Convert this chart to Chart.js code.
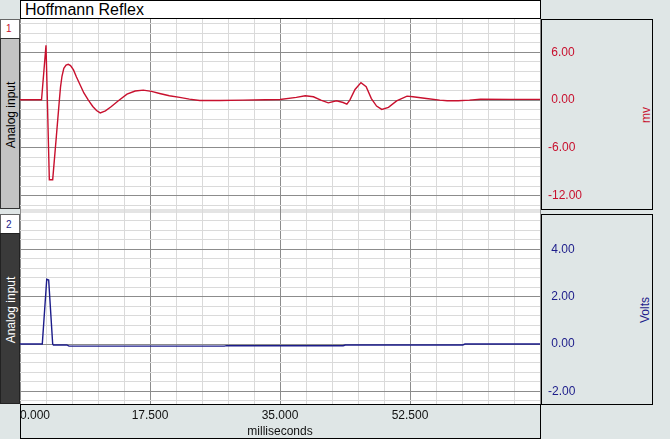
<!DOCTYPE html>
<html>
<head>
<meta charset="utf-8">
<title>Hoffmann Reflex</title>
<script src="https://cdn.jsdelivr.net/npm/chart.js@4.4.1/dist/chart.umd.min.js"></script>
<style>
    body { margin: 0; background: #dfe6e6; font-family: 'Liberation Sans', Arial, sans-serif; }
    #wrap { position: relative; width: 670px; height: 439px; overflow: hidden; }
    #wrap div { position: absolute; box-sizing: border-box; }
    canvas { position: absolute; left: 0; top: 0; }
    .box { border: 1px solid #000; }
    .vtext { white-space: nowrap; font-size: 12px; line-height: 14px; transform: translate(-50%, -50%) rotate(-90deg); }
    .num { font-size: 10px; line-height: 12px; }
</style>
</head>
<body>
<div id="wrap">
    <!-- plot background + splitter between the two panels -->
    <div style="left:20px;top:19px;width:521px;height:386px;background:#fff"></div>
    <div style="left:20px;top:209px;width:521px;height:4px;background:#e4e4e4"></div>

    <!-- title -->
    <div class="box" style="left:20px;top:0;width:521px;height:19px;background:#fff"></div>
    <div style="left:25px;top:0;font-size:16px;line-height:19px">Hoffmann Reflex</div>

    <!-- channel 1 side -->
    <div class="box" style="left:0;top:19px;width:20px;height:20px;background:#fff;border-color:#666"></div>
    <div class="num" style="left:6px;top:23px;color:#c8102e">1</div>
    <div class="box" style="left:0;top:38px;width:20px;height:171px;background:#c4c4c4;border-color:#333"></div>
    <div class="vtext" style="left:11px;top:115px;color:#000">Analog input</div>
    <div class="box" style="left:541px;top:19px;width:112px;height:191px"></div>
    <div class="vtext" style="left:646px;top:115px;color:#c8102e">mv</div>

    <!-- channel 2 side -->
    <div class="box" style="left:0;top:214px;width:20px;height:20px;background:#fff;border-color:#666"></div>
    <div class="num" style="left:6px;top:219px;color:#1c1c8a">2</div>
    <div class="box" style="left:0;top:233px;width:20px;height:171px;background:#3a3a3a;border-color:#222"></div>
    <div class="vtext" style="left:11px;top:310px;color:#fff">Analog input</div>
    <div class="box" style="left:541px;top:214px;width:112px;height:191px"></div>
    <div class="vtext" style="left:645px;top:310px;color:#1c1c8a">Volts</div>

    <!-- time axis box -->
    <div class="box" style="left:20px;top:404px;width:521px;height:35px"></div>

    <canvas id="chart" width="670" height="439"></canvas>
</div>

<script>
// channel 1: EMG response (mV)
const topTime = [0, 2.9, 3.5, 3.95, 4.4, 4.9, 5.3, 5.45, 5.65, 5.9,
    6.2, 6.5, 6.8, 7.2, 7.6, 8.1, 8.6, 9.2, 9.8, 10.3,
    10.8, 11.5, 12.3, 13.2, 14.4, 15.5, 16.6, 17.7, 18.8, 20.1,
    21.5, 22.8, 24.2, 26.9, 30.0, 33.0, 35.0, 37.2, 38.4, 39.5,
    40.5, 41.5, 42.6, 43.5, 44.0, 44.4, 45.1, 45.9, 46.6, 47.3,
    48.0, 48.7, 49.6, 50.7, 52.1, 52.9, 54.7, 56.5, 57.5, 59.0,
    60.5, 62.0, 66.0, 70.0];
const topMv = [0.05, 0.05, 6.9, -10.0, -10.0, -4.5, 0.0, 1.6, 3.0, 4.0,
    4.4, 4.5, 4.35, 3.8, 2.9, 1.9, 0.9, 0.0, -0.8, -1.3,
    -1.6, -1.35, -0.8, -0.1, 0.75, 1.15, 1.26, 1.1, 0.84, 0.55,
    0.34, 0.12, -0.05, -0.05, 0.0, 0.05, 0.08, 0.34, 0.55, 0.42,
    0.0, -0.34, -0.08, -0.3, -0.5, 0.0, 1.34, 2.2, 1.7, 0.2,
    -0.75, -1.17, -0.9, -0.1, 0.5, 0.42, 0.2, 0.0, -0.08, -0.08,
    0.0, 0.12, 0.1, 0.1];

// channel 2: stimulus pulse (Volts)
const bottomTime = [0, 3.0, 3.6, 3.86, 4.4, 4.5, 6.3, 6.6, 27.5, 27.8, 43.5, 43.8, 59.6, 59.9, 70.0];
const bottomVolts = [0, 0, 2.73, 2.7, 0, -0.04, -0.04, -0.09, -0.09, -0.07, -0.07, -0.04, -0.04, 0, 0];

const RED = '#c8102e';
const NAVY = '#1c1c8a';
const font = { family: "'Liberation Sans', Arial, sans-serif", size: 12 };

// evenly spaced grid positions between min and max
function gridTicks(min, max, step) {
    const out = [];
    for (let k = Math.ceil(min / step - 1e-9); k * step <= max + 1e-9; k++) {
        out.push({ value: +(k * step).toFixed(4) });
    }
    return out;
}

const isMultiple = (v, step) => Math.abs(v / step - Math.round(v / step)) < 1e-6;
const signed = v => (v < 0 ? '' : ' ') + v.toFixed(2);
const gridColor = major => c => isMultiple(c.tick.value, major) ? '#8c8c8c' : '#dadada';

function panelAxis(min, max, minor, major, color) {
    return {
        type: 'linear',
        position: 'right',
        stack: 'panels',
        stackWeight: 1,
        min, max,
        afterFit: s => { s.width = 130; },
        afterBuildTicks: s => { s.ticks = gridTicks(min, max, minor); },
        grid: { drawTicks: false, color: gridColor(major) },
        border: { display: false },
        ticks: {
            autoSkip: false,
            crossAlign: 'near',
            padding: 8,
            color,
            font,
            callback: v => isMultiple(v, major) ? signed(v) : ''
        }
    };
}

new Chart(document.getElementById('chart'), {
    type: 'line',
    data: {
        datasets: [{
            data: topTime.map((x, i) => ({ x, y: topMv[i] })),
            yAxisID: 'yTop',
            borderColor: RED,
            borderWidth: 1.4,
            pointRadius: 0,
            tension: 0
        }, {
            data: bottomTime.map((x, i) => ({ x, y: bottomVolts[i] })),
            yAxisID: 'yBottom',
            borderColor: NAVY,
            borderWidth: 1.4,
            pointRadius: 0,
            tension: 0
        }]
    },
    options: {
        responsive: false,
        animation: false,
        layout: { padding: { left: 20, top: 19, right: 0, bottom: 0 } },
        plugins: { legend: { display: false }, tooltip: { enabled: false } },
        scales: {
            x: {
                type: 'linear',
                min: 0,
                max: 70,
                afterFit: s => { s.height = 35; },
                afterBuildTicks: s => { s.ticks = gridTicks(0, 70, 3.5); },
                grid: { drawTicks: false, color: gridColor(17.5) },
                border: { display: false },
                ticks: {
                    autoSkip: false,
                    maxRotation: 0,
                    align: 'inner',
                    padding: 4,
                    color: '#111',
                    font,
                    callback: v => (isMultiple(v, 17.5) && v < 70) ? v.toFixed(3) : ''
                },
                title: {
                    display: true,
                    text: 'milliseconds',
                    color: '#111',
                    font,
                    padding: { top: 0, bottom: 0 }
                }
            },
            yTop: panelAxis(-14.0, 10.2, 1.2, 6, RED),
            yBottom: panelAxis(-2.53, 5.59, 0.4, 2, NAVY)
        }
    }
});
</script>
</body>
</html>
